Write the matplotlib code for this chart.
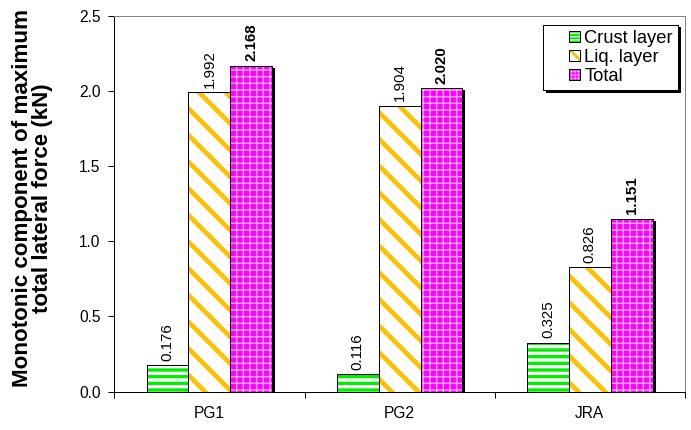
import numpy as np
import matplotlib
matplotlib.use("Agg")
import matplotlib.pyplot as plt
from matplotlib.patches import Rectangle
from matplotlib.legend_handler import HandlerBase
from matplotlib.transforms import offset_copy

plt.rcParams["font.family"] = ["Liberation Sans", "DejaVu Sans"]
plt.rcParams["hatch.linewidth"] = 3.0

# data
groups = ["PG1", "PG2", "JRA"]
crust = [0.176, 0.116, 0.325]
liq = [1.992, 1.904, 0.826]
total = [2.168, 2.020, 1.151]
names = ["Crust layer", "Liq. layer", "Total"]
y_ticks = [0.0, 0.5, 1.0, 1.5, 2.0, 2.5]

# (face, hatch, hatch colour, hatch width, bold value label)
styles = [
    ("white", "--", "#00ee00", 3.0, False),
    ("white", "\\", "#ffc000", 4.2, False),
    ("#ff00ff", "++", "#ffa8ff", 1.3, True),
]


def hatched(patch, hcol, hlw):
    patch.set_edgecolor(hcol)
    patch.set_linewidth(0)
    if hasattr(patch, "set_hatch_linewidth"):
        patch.set_hatch_linewidth(hlw)


class SwatchHandler(HandlerBase):
    # small square swatch with black border, pushed to the right of the handle box
    def create_artists(self, legend, orig_handle, xdescent, ydescent,
                       width, height, fontsize, trans):
        face, hatch, hcol, hlw = orig_handle.swatch
        side = height
        x0 = width - side - xdescent
        y0 = -ydescent
        # denser pattern so it still reads in a tiny square
        fill = Rectangle((x0, y0), side, side, facecolor=face, hatch=hatch * 2, transform=trans)
        hatched(fill, hcol, hlw * 0.6)
        edge = Rectangle((x0, y0), side, side, fill=False, edgecolor="black",
                         linewidth=0.9, transform=trans)
        return [fill, edge]


DPI = 80
fig = plt.figure(figsize=(691 / DPI, 430 / DPI), dpi=DPI)
ax = fig.add_axes([0.1654, 0.0895, 0.8259, 0.8733])

x = np.arange(len(groups))
width = 0.22
shadow_tr = offset_copy(ax.transData, fig=fig, x=2.7, y=-2.0, units="points")

handles = []
for i, (vals, name, (face, hatch, hcol, hlw, bold)) in enumerate(zip([crust, liq, total], names, styles)):
    pos = x + (i - 1) * width
    # drop shadow
    ax.bar(pos, vals, width, color="black", linewidth=0, zorder=1, transform=shadow_tr)
    bars = ax.bar(pos, vals, width, facecolor=face, hatch=hatch, zorder=2, label=name)
    for p in bars:
        hatched(p, hcol, hlw)
    ax.bar(pos, vals, width, fill=False, edgecolor="black", linewidth=0.9, zorder=3)
    ax.bar_label(bars, labels=[f"{v:.3f}" for v in vals], rotation=90, padding=4,
                 fontsize=13.5, fontweight="bold" if bold else "normal")
    bars.swatch = (face, hatch, hcol, hlw)
    handles.append(bars)

ax.set_xlim(-0.5, 2.5)
ax.set_ylim(0, 2.5)
ax.set_xticks(x)
ax.set_xticklabels(groups, fontsize=14)
ax.set_xticks([-0.5, 0.5, 1.5, 2.5], minor=True)
ax.tick_params(axis="x", which="major", length=0, pad=13)
ax.tick_params(axis="x", which="minor", length=5, direction="out", width=0.9)
ax.set_yticks(y_ticks)
ax.set_yticklabels([f"{v:.1f}" for v in y_ticks], fontsize=14)
ax.tick_params(axis="y", length=5.5, direction="out", width=0.9, pad=7)

for side in ["top", "right"]:
    ax.spines[side].set_color("#808080")
    ax.spines[side].set_linewidth(0.9)
for side in ["left", "bottom"]:
    ax.spines[side].set_linewidth(0.9)

ax.set_ylabel("Monotonic component of maximum\ntotal lateral force (kN)",
              fontsize=20.2, fontweight="bold", linespacing=0.95)
ax.yaxis.set_label_coords(-0.107, 0.516)

leg = ax.legend(handles=handles, loc="upper right", bbox_to_anchor=(0.9877, 0.976),
                borderaxespad=0, fontsize=16.5, fancybox=False, edgecolor="black",
                framealpha=1, handlelength=1.7, handleheight=0.5, handletextpad=0.25,
                labelspacing=0.1, borderpad=0.28,
                handler_map={type(handles[0]): SwatchHandler()},
                shadow={"facecolor": "black", "edgecolor": "black", "alpha": 1})
leg.get_frame().set_linewidth(0.9)

fig.savefig("out.png", dpi=DPI)
